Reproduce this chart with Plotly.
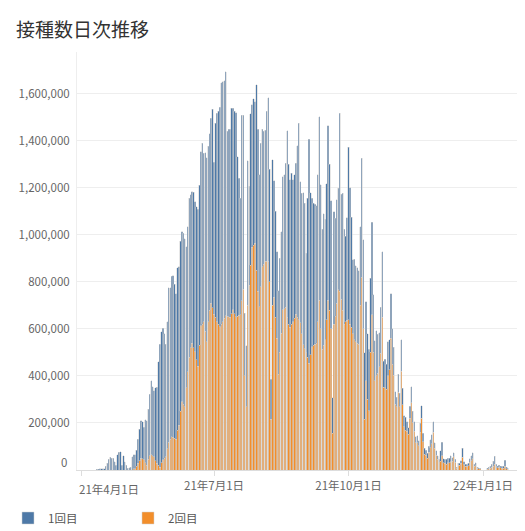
import pandas as pd
import plotly.graph_objects as go

# 日次接種回数（千回）、2021-04-12 から 1日ずつ
inicio = "2021-04-12"

dose1 = [
    3, 3, 5, 5, 5, 6, 15, 28, 45, 54, 50, 50, 35, 21, 65, 75, 78, 20, 60, 35,
    20, 8, 10, 12, 57, 59, 59, 70, 102, 133, 160, 157, 138, 183, 189, 213, 263, 316, 295, 280,
    310, 324, 441, 524, 559, 560, 530, 478, 541, 659, 646, 683, 686, 656, 619, 690, 674, 722, 723, 727,
    714, 600, 617, 676, 650, 645, 661, 638, 650, 668, 682, 740, 770, 716, 760, 783, 748, 750, 787, 845,
    647, 825, 887, 905, 932, 1028, 1021, 1010, 1038, 785, 798, 799, 874, 858, 860, 868, 678, 582, 496, 790,
    740, 267, 259, 615, 420, 645, 606, 625, 603, 788, 690, 560, 610, 584, 565, 559, 638, 697, 480, 170,
    619, 496, 450, 369, 354, 400, 433, 567, 570, 613, 792, 680, 627, 642, 603, 610, 643, 730, 835, 600,
    597, 648, 619, 423, 675, 953, 690, 631, 604, 595, 586, 625, 780, 613, 511, 559, 514, 577, 741, 620,
    546, 152, 479, 416, 440, 432, 757, 447, 497, 403, 365, 436, 733, 580, 468, 315, 343, 323, 320, 313,
    335, 506, 379, 283, 336, 279, 262, 316, 393, 245, 170, 193, 166, 144, 196, 279, 110, 121, 107, 146,
    127, 189, 150, 118, 53, 40, 78, 57, 133, 70, 45, 54, 41, 28, 52, 68, 50, 41, 26, 30,
    21, 39, 54, 36, 25, 23, 21, 25, 33, 38, 46, 24, 20, 15, 10, 44, 58, 16, 17, 21,
    20, 20, 25, 14, 17, 13, 3, 8, 7, 12, 38, 13, 8, 8, 10, 16, 20, 26, 10, 13,
    4, 4, 3, 0, 0, 0, 0, 3, 5, 7, 12, 21, 33, 10, 7, 9, 8, 10, 9, 24,
    5, 3,
]

dose2 = [
    0, 0, 0, 0, 0, 0, 0, 0, 0, 0, 0, 0, 0, 0, 0, 0, 0, 0, 0, 0,
    0, 0, 0, 0, 0, 5, 5, 15, 28, 40, 50, 48, 43, 30, 21, 45, 60, 64, 60, 57,
    40, 28, 20, 11, 30, 43, 50, 57, 90, 117, 130, 142, 140, 135, 130, 170, 191, 250, 291, 280,
    269, 350, 418, 480, 520, 539, 520, 503, 470, 442, 530, 614, 620, 631, 590, 546, 630, 680, 709, 690,
    662, 650, 631, 620, 610, 620, 631, 645, 657, 655, 652, 650, 665, 681, 665, 652, 655, 658, 660, 720,
    769, 400, 269, 700, 786, 870, 947, 955, 964, 850, 760, 695, 780, 865, 875, 887, 887, 887, 800, 216,
    700, 735, 650, 560, 408, 500, 581, 681, 685, 692, 650, 620, 607, 620, 631, 645, 662, 650, 640, 627,
    580, 532, 515, 499, 480, 454, 490, 525, 530, 535, 539, 630, 723, 600, 513, 530, 553, 640, 723, 680,
    600, 156, 620, 655, 710, 766, 760, 726, 680, 621, 630, 638, 640, 620, 607, 580, 553, 545, 540, 535,
    700, 820, 600, 216, 380, 300, 251, 500, 660, 500, 379, 400, 411, 440, 496, 650, 352, 350, 343, 400,
    426, 560, 450, 404, 280, 269, 330, 269, 420, 277, 185, 170, 165, 152, 220, 287, 200, 165, 116, 115,
    104, 160, 220, 120, 67, 62, 50, 75, 95, 111, 160, 92, 62, 45, 35, 38, 60, 31, 28, 24,
    30, 30, 35, 38, 57, 32, 8, 20, 21, 28, 54, 22, 17, 17, 18, 32, 40, 48, 15, 18,
    7, 6, 5, 0, 0, 0, 0, 4, 6, 8, 12, 17, 25, 14, 10, 11, 9, 7, 8, 17,
    6, 4,
]

fechas = pd.date_range(inicio, periods=len(dose1), freq="D")

y_ticks = [0, 200000, 400000, 600000, 800000, 1000000, 1200000, 1400000, 1600000]
x_ticks = ["2021-04-01", "2021-07-01", "2021-10-01", "2022-01-01"]
x_labels = ["21年4月1日", "21年7月1日", "21年10月1日", "22年1月1日"]

AZUL = "#4e79a7"
LARANJA = "#f28e2b"
BORDA = "#d0d0d0"
FONTE = "Noto Sans CJK JP, Noto Sans, sans-serif"

# a página tem 8px de margem no body: a figura fica 8px menor e tudo desloca
W, H = 517, 523

fig = go.Figure()
fig.add_bar(x=fechas, y=[v * 1000 for v in dose2], name="2回目",
            marker=dict(color=LARANJA, line=dict(color=BORDA, width=0.5)))
fig.add_bar(x=fechas, y=[v * 1000 for v in dose1], name="1回目",
            marker=dict(color=AZUL, line=dict(color=BORDA, width=0.5)))

fig.update_layout(
    width=W, height=H,
    barmode="stack", bargap=0.15,
    plot_bgcolor="white", paper_bgcolor="white",
    margin=dict(l=69, r=4, t=44, b=61, autoexpand=False),
    font=dict(family=FONTE, color="#666666", size=11),
    title=dict(text="接種数日次推移", x=8 / W, xanchor="left", y=1 - 22 / H, yanchor="middle",
               font=dict(size=19, color="#333333")),
    legend=dict(orientation="h", xref="container", yref="container",
                x=-0.022, xanchor="left", y=1 - 510 / H, yanchor="middle",
                traceorder="reversed",
                entrywidth=75, entrywidthmode="pixels",
                font=dict(size=11.5, color="#555555")),
    hovermode=False,
)

fig.update_xaxes(
    type="date", range=["2021-03-29 06:00", "2022-01-27"],
    tickvals=x_ticks, ticktext=[""] + x_labels[1:],
    ticks="outside", ticklen=5, tickcolor="#dddddd",
    showline=True, linecolor="#dddddd", showgrid=False,
    tickfont=dict(size=11.5, color="#666666"),
)
fig.update_yaxes(
    range=[0, 1778000], tickvals=y_ticks[1:],
    ticktext=[f"{v:,}" for v in y_ticks[1:]],
    showgrid=True, gridcolor="#eeeeee", gridwidth=1,
    showline=True, linecolor="#eeeeee", zeroline=False,
    ticks="", ticklabelstandoff=4, tickfont=dict(size=11.5, color="#666666"),
)

# Tableau は端のラベルを内側にずらして描く
fig.add_annotation(x=x_ticks[0], y=0, xref="x", yref="paper", text=x_labels[0],
                   showarrow=False, xanchor="left", yanchor="top", xshift=-4, yshift=-9,
                   font=dict(size=11.5, color="#666666"))
fig.add_annotation(x=0, y=y_ticks[0], xref="paper", yref="y", text="0",
                   showarrow=False, xanchor="right", yanchor="middle", xshift=-8, yshift=8,
                   font=dict(size=11.5, color="#666666"))

fig.write_html("out.html")
